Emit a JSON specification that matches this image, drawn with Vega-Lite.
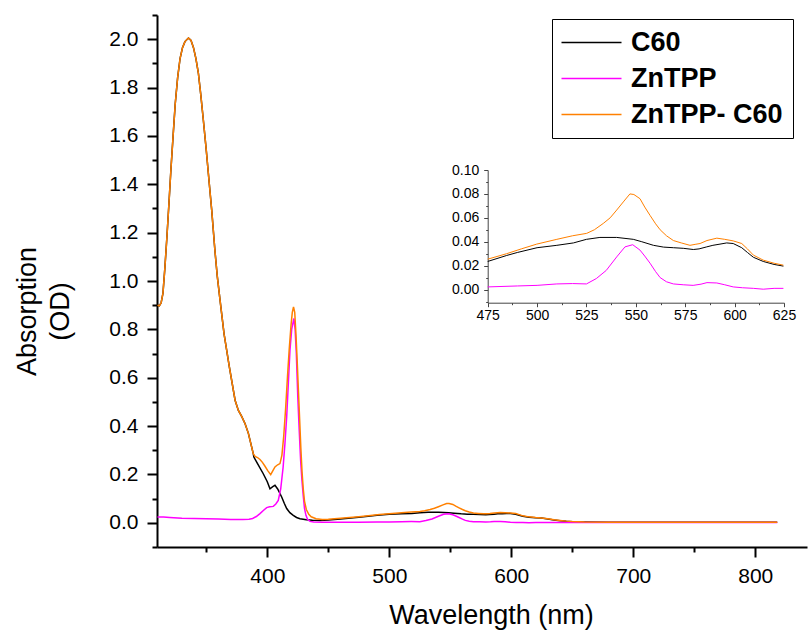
{
  "$schema": "https://vega.github.io/schema/vega-lite/v6.json",
  "width": 650,
  "height": 532,
  "autosize": {"type": "none"},
  "padding": {"left": 157, "top": 15, "right": 1, "bottom": 84},
  "background": "white",
  "config": {"view": {"stroke": null}, "font": "Liberation Sans", "axis": {"grid": false}},
  "data": {"values": [
    {"s":"C60","x":310,"y":0.9},{"s":"C60","x":311.5,"y":0.897},{"s":"C60","x":313,"y":0.91},{"s":"C60","x":314.5,"y":0.95},{"s":"C60","x":316,"y":1.05},{"s":"C60","x":317.7,"y":1.18},{"s":"C60","x":319.5,"y":1.33},{"s":"C60","x":321,"y":1.46},{"s":"C60","x":322.8,"y":1.6},{"s":"C60","x":324.5,"y":1.73},{"s":"C60","x":326.5,"y":1.84},{"s":"C60","x":328.5,"y":1.92},{"s":"C60","x":330.5,"y":1.965},{"s":"C60","x":332.5,"y":1.99},{"s":"C60","x":335.4,"y":2.005},{"s":"C60","x":337.5,"y":1.995},{"s":"C60","x":339.5,"y":1.965},{"s":"C60","x":341.5,"y":1.92},{"s":"C60","x":343.5,"y":1.86},{"s":"C60","x":345.5,"y":1.77},{"s":"C60","x":347.5,"y":1.67},{"s":"C60","x":350,"y":1.54},{"s":"C60","x":352.5,"y":1.4},{"s":"C60","x":354.5,"y":1.29},{"s":"C60","x":357,"y":1.13},{"s":"C60","x":359,"y":1.02},{"s":"C60","x":361.3,"y":0.92},{"s":"C60","x":364.6,"y":0.78},{"s":"C60","x":368.9,"y":0.645},{"s":"C60","x":373.6,"y":0.507},{"s":"C60","x":376.3,"y":0.465},{"s":"C60","x":379,"y":0.44},{"s":"C60","x":381.8,"y":0.41},{"s":"C60","x":384.5,"y":0.37},{"s":"C60","x":388.5,"y":0.286},
    {"s":"C60","x":389,"y":0.272},{"s":"C60","x":392,"y":0.245},{"s":"C60","x":396.7,"y":0.203},{"s":"C60","x":400,"y":0.17},{"s":"C60","x":402.2,"y":0.141},{"s":"C60","x":404.5,"y":0.15},{"s":"C60","x":406.3,"y":0.155},{"s":"C60","x":408.5,"y":0.14},{"s":"C60","x":411.8,"y":0.107},{"s":"C60","x":414,"y":0.08},{"s":"C60","x":415.9,"y":0.059},{"s":"C60","x":418.5,"y":0.042},{"s":"C60","x":421.3,"y":0.031},{"s":"C60","x":424,"y":0.022},{"s":"C60","x":426.8,"y":0.017},{"s":"C60","x":432,"y":0.013},{"s":"C60","x":437,"y":0.011},{"s":"C60","x":443,"y":0.01},{"s":"C60","x":450,"y":0.012},{"s":"C60","x":460,"y":0.016},{"s":"C60","x":475,"y":0.0235},{"s":"C60","x":484.6,"y":0.0285},{"s":"C60","x":490,"y":0.031},{"s":"C60","x":500,"y":0.035},{"s":"C60","x":510,"y":0.037},{"s":"C60","x":518.4,"y":0.039},{"s":"C60","x":525,"y":0.042},{"s":"C60","x":531.8,"y":0.0436},{"s":"C60","x":540.3,"y":0.0436},{"s":"C60","x":548.7,"y":0.042},{"s":"C60","x":553,"y":0.04},{"s":"C60","x":558.9,"y":0.037},{"s":"C60","x":564,"y":0.0355},{"s":"C60","x":569,"y":0.035},{"s":"C60","x":574,"y":0.0345},{"s":"C60","x":579.1,"y":0.0335},{"s":"C60","x":582,"y":0.034},{"s":"C60","x":585.9,"y":0.0357},{"s":"C60","x":589,"y":0.037},{"s":"C60","x":592.6,"y":0.038},{"s":"C60","x":596,"y":0.039},{"s":"C60","x":599.3,"y":0.0385},{"s":"C60","x":603.6,"y":0.035},{"s":"C60","x":606.5,"y":0.031},{"s":"C60","x":609.5,"y":0.027},{"s":"C60","x":614.5,"y":0.0235},{"s":"C60","x":620,"y":0.021},{"s":"C60","x":624.7,"y":0.0196},{"s":"C60","x":630,"y":0.016},{"s":"C60","x":635,"y":0.012},{"s":"C60","x":640,"y":0.009},{"s":"C60","x":645,"y":0.006},{"s":"C60","x":650,"y":0.004},{"s":"C60","x":660,"y":0.003},{"s":"C60","x":680,"y":0.002},{"s":"C60","x":700,"y":0.002},{"s":"C60","x":750,"y":0.002},{"s":"C60","x":800,"y":0.002},{"s":"C60","x":818,"y":0.002},
    {"s":"ZnTPP","x":310,"y":0.024},{"s":"ZnTPP","x":315,"y":0.024},{"s":"ZnTPP","x":320,"y":0.022},{"s":"ZnTPP","x":330,"y":0.019},{"s":"ZnTPP","x":340,"y":0.018},{"s":"ZnTPP","x":350,"y":0.017},{"s":"ZnTPP","x":360,"y":0.016},{"s":"ZnTPP","x":370,"y":0.014},{"s":"ZnTPP","x":380,"y":0.014},{"s":"ZnTPP","x":385,"y":0.015},{"s":"ZnTPP","x":388,"y":0.018},{"s":"ZnTPP","x":391,"y":0.026},{"s":"ZnTPP","x":394,"y":0.038},{"s":"ZnTPP","x":397,"y":0.052},{"s":"ZnTPP","x":399.5,"y":0.063},{"s":"ZnTPP","x":402,"y":0.066},{"s":"ZnTPP","x":404.9,"y":0.068},{"s":"ZnTPP","x":407,"y":0.078},{"s":"ZnTPP","x":409,"y":0.093},{"s":"ZnTPP","x":411,"y":0.14},{"s":"ZnTPP","x":413,"y":0.231},{"s":"ZnTPP","x":414.5,"y":0.33},{"s":"ZnTPP","x":415.9,"y":0.438},{"s":"ZnTPP","x":417.3,"y":0.58},{"s":"ZnTPP","x":418.6,"y":0.714},{"s":"ZnTPP","x":420,"y":0.8},{"s":"ZnTPP","x":421.8,"y":0.845},{"s":"ZnTPP","x":422.8,"y":0.8},{"s":"ZnTPP","x":423.8,"y":0.7},{"s":"ZnTPP","x":425,"y":0.52},{"s":"ZnTPP","x":426.2,"y":0.38},{"s":"ZnTPP","x":427.3,"y":0.26},{"s":"ZnTPP","x":428.4,"y":0.176},{"s":"ZnTPP","x":429.5,"y":0.11},{"s":"ZnTPP","x":430.5,"y":0.06},{"s":"ZnTPP","x":431.7,"y":0.031},{"s":"ZnTPP","x":433,"y":0.015},{"s":"ZnTPP","x":435,"y":0.006},{"s":"ZnTPP","x":438,"y":0.003},{"s":"ZnTPP","x":445,"y":0.002},{"s":"ZnTPP","x":460,"y":0.002},{"s":"ZnTPP","x":475,"y":0.0022},{"s":"ZnTPP","x":490,"y":0.003},{"s":"ZnTPP","x":500,"y":0.0035},{"s":"ZnTPP","x":510,"y":0.0047},{"s":"ZnTPP","x":518,"y":0.005},{"s":"ZnTPP","x":525,"y":0.0047},{"s":"ZnTPP","x":530,"y":0.0092},{"s":"ZnTPP","x":535,"y":0.016},{"s":"ZnTPP","x":540.3,"y":0.0273},{"s":"ZnTPP","x":544.5,"y":0.0357},{"s":"ZnTPP","x":548.4,"y":0.0375},{"s":"ZnTPP","x":552.1,"y":0.033},{"s":"ZnTPP","x":554.5,"y":0.028},{"s":"ZnTPP","x":557.2,"y":0.022},{"s":"ZnTPP","x":560,"y":0.015},{"s":"ZnTPP","x":562.3,"y":0.01},{"s":"ZnTPP","x":565.5,"y":0.0065},{"s":"ZnTPP","x":569,"y":0.0047},{"s":"ZnTPP","x":574,"y":0.004},{"s":"ZnTPP","x":579,"y":0.0035},{"s":"ZnTPP","x":583,"y":0.0045},{"s":"ZnTPP","x":586,"y":0.0058},{"s":"ZnTPP","x":591,"y":0.0055},{"s":"ZnTPP","x":595,"y":0.004},{"s":"ZnTPP","x":599.3,"y":0.0022},{"s":"ZnTPP","x":604,"y":0.0015},{"s":"ZnTPP","x":609.5,"y":0.001},{"s":"ZnTPP","x":614.5,"y":0.0003},{"s":"ZnTPP","x":620,"y":0.001},{"s":"ZnTPP","x":624.7,"y":0.001},{"s":"ZnTPP","x":640,"y":0.001},{"s":"ZnTPP","x":700,"y":0.001},{"s":"ZnTPP","x":750,"y":0.001},{"s":"ZnTPP","x":818,"y":0.001},
    {"s":"ZnTPP- C60","x":310,"y":0.9},{"s":"ZnTPP- C60","x":311.5,"y":0.897},{"s":"ZnTPP- C60","x":313,"y":0.91},{"s":"ZnTPP- C60","x":314.5,"y":0.95},{"s":"ZnTPP- C60","x":316,"y":1.05},{"s":"ZnTPP- C60","x":317.7,"y":1.18},{"s":"ZnTPP- C60","x":319.5,"y":1.33},{"s":"ZnTPP- C60","x":321,"y":1.46},{"s":"ZnTPP- C60","x":322.8,"y":1.6},{"s":"ZnTPP- C60","x":324.5,"y":1.73},{"s":"ZnTPP- C60","x":326.5,"y":1.84},{"s":"ZnTPP- C60","x":328.5,"y":1.92},{"s":"ZnTPP- C60","x":330.5,"y":1.965},{"s":"ZnTPP- C60","x":332.5,"y":1.99},{"s":"ZnTPP- C60","x":335.4,"y":2.005},{"s":"ZnTPP- C60","x":337.5,"y":1.995},{"s":"ZnTPP- C60","x":339.5,"y":1.965},{"s":"ZnTPP- C60","x":341.5,"y":1.92},{"s":"ZnTPP- C60","x":343.5,"y":1.86},{"s":"ZnTPP- C60","x":345.5,"y":1.77},{"s":"ZnTPP- C60","x":347.5,"y":1.67},{"s":"ZnTPP- C60","x":350,"y":1.54},{"s":"ZnTPP- C60","x":352.5,"y":1.4},{"s":"ZnTPP- C60","x":354.5,"y":1.29},{"s":"ZnTPP- C60","x":357,"y":1.13},{"s":"ZnTPP- C60","x":359,"y":1.02},{"s":"ZnTPP- C60","x":361.3,"y":0.92},{"s":"ZnTPP- C60","x":364.6,"y":0.78},{"s":"ZnTPP- C60","x":368.9,"y":0.645},{"s":"ZnTPP- C60","x":373.6,"y":0.507},{"s":"ZnTPP- C60","x":376.3,"y":0.465},{"s":"ZnTPP- C60","x":379,"y":0.44},{"s":"ZnTPP- C60","x":381.8,"y":0.41},{"s":"ZnTPP- C60","x":384.5,"y":0.37},{"s":"ZnTPP- C60","x":388.5,"y":0.286},
    {"s":"ZnTPP- C60","x":390,"y":0.275},{"s":"ZnTPP- C60","x":392,"y":0.27},{"s":"ZnTPP- C60","x":394,"y":0.262},{"s":"ZnTPP- C60","x":396,"y":0.25},{"s":"ZnTPP- C60","x":398,"y":0.235},{"s":"ZnTPP- C60","x":400.5,"y":0.215},{"s":"ZnTPP- C60","x":402.8,"y":0.199},{"s":"ZnTPP- C60","x":404.5,"y":0.215},{"s":"ZnTPP- C60","x":406.3,"y":0.231},{"s":"ZnTPP- C60","x":408.5,"y":0.24},{"s":"ZnTPP- C60","x":410.4,"y":0.245},{"s":"ZnTPP- C60","x":412,"y":0.28},{"s":"ZnTPP- C60","x":413.5,"y":0.36},{"s":"ZnTPP- C60","x":415,"y":0.47},{"s":"ZnTPP- C60","x":416.5,"y":0.6},{"s":"ZnTPP- C60","x":418,"y":0.72},{"s":"ZnTPP- C60","x":419.5,"y":0.82},{"s":"ZnTPP- C60","x":420.5,"y":0.87},{"s":"ZnTPP- C60","x":421.5,"y":0.893},{"s":"ZnTPP- C60","x":422.5,"y":0.87},{"s":"ZnTPP- C60","x":423.5,"y":0.78},{"s":"ZnTPP- C60","x":424.5,"y":0.67},{"s":"ZnTPP- C60","x":425.5,"y":0.55},{"s":"ZnTPP- C60","x":426.5,"y":0.43},{"s":"ZnTPP- C60","x":427.5,"y":0.31},{"s":"ZnTPP- C60","x":428.5,"y":0.21},{"s":"ZnTPP- C60","x":429.5,"y":0.14},{"s":"ZnTPP- C60","x":430.5,"y":0.09},{"s":"ZnTPP- C60","x":432,"y":0.055},{"s":"ZnTPP- C60","x":434,"y":0.035},{"s":"ZnTPP- C60","x":436,"y":0.025},{"s":"ZnTPP- C60","x":440,"y":0.017},{"s":"ZnTPP- C60","x":445,"y":0.014},{"s":"ZnTPP- C60","x":450,"y":0.015},{"s":"ZnTPP- C60","x":460,"y":0.019},{"s":"ZnTPP- C60","x":475,"y":0.0254},{"s":"ZnTPP- C60","x":484.6,"y":0.03},{"s":"ZnTPP- C60","x":492,"y":0.034},{"s":"ZnTPP- C60","x":499.8,"y":0.038},{"s":"ZnTPP- C60","x":510,"y":0.042},{"s":"ZnTPP- C60","x":518,"y":0.045},{"s":"ZnTPP- C60","x":525.1,"y":0.047},{"s":"ZnTPP- C60","x":529,"y":0.05},{"s":"ZnTPP- C60","x":533.5,"y":0.0553},{"s":"ZnTPP- C60","x":537,"y":0.06},{"s":"ZnTPP- C60","x":540.3,"y":0.0665},{"s":"ZnTPP- C60","x":544,"y":0.074},{"s":"ZnTPP- C60","x":547,"y":0.08},{"s":"ZnTPP- C60","x":549,"y":0.0795},{"s":"ZnTPP- C60","x":552.1,"y":0.076},{"s":"ZnTPP- C60","x":554.5,"y":0.069},{"s":"ZnTPP- C60","x":557.2,"y":0.062},{"s":"ZnTPP- C60","x":560,"y":0.055},{"s":"ZnTPP- C60","x":562.3,"y":0.05},{"s":"ZnTPP- C60","x":565.5,"y":0.045},{"s":"ZnTPP- C60","x":569,"y":0.041},{"s":"ZnTPP- C60","x":573,"y":0.039},{"s":"ZnTPP- C60","x":577.4,"y":0.037},{"s":"ZnTPP- C60","x":580,"y":0.0378},{"s":"ZnTPP- C60","x":582.5,"y":0.0385},{"s":"ZnTPP- C60","x":586,"y":0.041},{"s":"ZnTPP- C60","x":591,"y":0.043},{"s":"ZnTPP- C60","x":595,"y":0.042},{"s":"ZnTPP- C60","x":599.3,"y":0.0407},{"s":"ZnTPP- C60","x":603.6,"y":0.0385},{"s":"ZnTPP- C60","x":606.5,"y":0.034},{"s":"ZnTPP- C60","x":609.5,"y":0.0288},{"s":"ZnTPP- C60","x":614.5,"y":0.0246},{"s":"ZnTPP- C60","x":620,"y":0.022},{"s":"ZnTPP- C60","x":624.7,"y":0.0204},{"s":"ZnTPP- C60","x":630,"y":0.017},{"s":"ZnTPP- C60","x":635,"y":0.013},{"s":"ZnTPP- C60","x":640,"y":0.01},{"s":"ZnTPP- C60","x":645,"y":0.007},{"s":"ZnTPP- C60","x":650,"y":0.005},{"s":"ZnTPP- C60","x":660,"y":0.003},{"s":"ZnTPP- C60","x":680,"y":0.002},{"s":"ZnTPP- C60","x":700,"y":0.002},{"s":"ZnTPP- C60","x":750,"y":0.002},{"s":"ZnTPP- C60","x":800,"y":0.002},{"s":"ZnTPP- C60","x":818,"y":0.002}
  ]},
  "layer": [
    {
      "mark": {"type": "line", "strokeWidth": 1.5, "clip": true},
      "encoding": {
        "x": {"field": "x", "type": "quantitative",
          "scale": {"domain": [309.6, 842.4], "nice": false, "zero": false},
          "axis": {"orient": "bottom", "title": "Wavelength (nm)",
            "values": [350, 400, 450, 500, 550, 600, 650, 700, 750, 800],
            "labelExpr": "datum.value % 100 == 0 ? format(datum.value, 'd') : ''",
            "tickSize": {"condition": {"test": "datum.value % 100 == 0", "value": 10}, "value": 5},
            "tickWidth": 2, "tickColor": "black", "domainColor": "black", "domainWidth": 2,
            "labelFont": "Liberation Sans", "labelFontSize": 21, "labelColor": "black", "labelPadding": 8, "labelFlush": false, "labelOverlap": false,
            "titleFont": "Liberation Sans", "titleFontSize": 27, "titleFontWeight": "normal", "titleColor": "black", "titlePadding": 16, "titleX": 334}},
        "y": {"field": "y", "type": "quantitative",
          "scale": {"domain": [-0.1, 2.1], "nice": false, "zero": false},
          "axis": {"orient": "left", "title": ["Absorption", "(OD)"],
            "values": [-0.1, 0, 0.1, 0.2, 0.3, 0.4, 0.5, 0.6, 0.7, 0.8, 0.9, 1.0, 1.1, 1.2, 1.3, 1.4, 1.5, 1.6, 1.7, 1.8, 1.9, 2.0, 2.1],
            "labelExpr": "round(datum.value * 10) % 2 == 0 ? format(datum.value, '.1f') : ''",
            "tickSize": {"condition": {"test": "round(datum.value * 10) % 2 == 0", "value": 10}, "value": 5},
            "tickWidth": 2, "tickColor": "black", "domainColor": "black", "domainWidth": 2,
            "labelFont": "Liberation Sans", "labelFontSize": 21, "labelColor": "black", "labelPadding": 9, "labelFlush": false, "labelOverlap": false,
            "titleFont": "Liberation Sans", "titleFontSize": 27, "titleFontWeight": "normal", "titleColor": "black", "titleLineHeight": 33, "titlePadding": 34, "titleY": 296}},
        "color": {"field": "s", "type": "nominal",
          "scale": {"domain": ["C60", "ZnTPP", "ZnTPP- C60"], "range": ["#000000", "#ff00ff", "#ff8000"]},
          "legend": {"orient": "none", "legendX": 395, "legendY": 4, "title": null,
            "strokeColor": "black", "fillColor": "white", "padding": 10,
            "labelFont": "Liberation Sans", "labelFontSize": 27, "labelFontWeight": "bold", "labelColor": "black",
            "symbolType": "M-4,0H4", "symbolSize": 225, "symbolStrokeWidth": 1.5, "symbolOffset": 16, "labelOffset": 26, "rowPadding": 8}}
      }
    },
    {
      "transform": [{"filter": "datum.x >= 474.9 && datum.x <= 625.1"}],
      "mark": {"type": "line", "strokeWidth": 1},
      "encoding": {
        "x": {"field": "x", "type": "quantitative",
          "scale": {"domain": [475, 625], "range": [330.7, 627], "nice": false, "zero": false},
          "axis": {"orient": "bottom", "offset": -244.3, "title": null,
            "values": [475, 487.5, 500, 512.5, 525, 537.5, 550, 562.5, 575, 587.5, 600, 612.5, 625],
            "labelExpr": "(datum.value - 475) % 25 == 0 ? format(datum.value, 'd') : ''",
            "tickSize": {"condition": {"test": "(datum.value - 475) % 25 == 0", "value": 4}, "value": 2},
            "tickWidth": 1, "tickColor": "#444444", "domainColor": "#444444", "domainWidth": 1,
            "labelFont": "Liberation Sans", "labelFontSize": 14, "labelColor": "black", "labelPadding": 2, "labelFlush": false, "labelOverlap": false}},
        "y": {"field": "y", "type": "quantitative",
          "scale": {"domain": [-0.011, 0.1], "range": [287.7, 155], "nice": false, "zero": false},
          "axis": {"orient": "left", "offset": -330.7, "title": null,
            "values": [-0.01, 0, 0.01, 0.02, 0.03, 0.04, 0.05, 0.06, 0.07, 0.08, 0.09, 0.1],
            "labelExpr": "round(datum.value * 100) % 2 == 0 ? format(datum.value, '.2f') : ''",
            "tickSize": {"condition": {"test": "round(datum.value * 100) % 2 == 0", "value": 4}, "value": 2},
            "tickWidth": 1, "tickColor": "#444444", "domainColor": "#444444", "domainWidth": 1,
            "labelFont": "Liberation Sans", "labelFontSize": 14, "labelColor": "black", "labelPadding": 5, "labelFlush": false, "labelOverlap": false}},
        "color": {"field": "s", "type": "nominal",
          "scale": {"domain": ["C60", "ZnTPP", "ZnTPP- C60"], "range": ["#000000", "#ff00ff", "#ff8000"]}}
      }
    }
  ],
  "resolve": {"scale": {"x": "independent", "y": "independent"}, "axis": {"x": "independent", "y": "independent"}}
}
